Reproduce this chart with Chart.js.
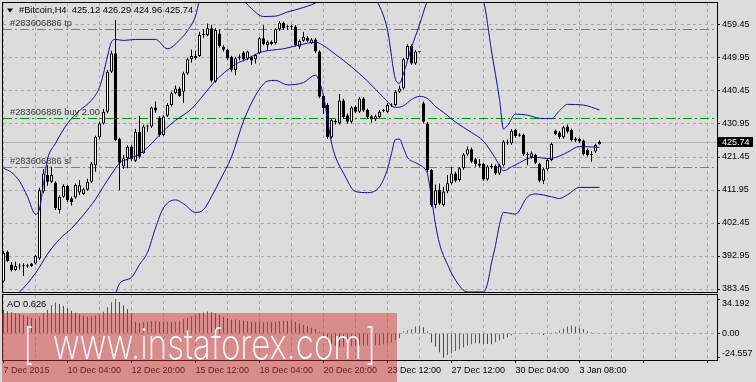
<!DOCTYPE html>
<html lang="en">
<head>
  <meta charset="UTF-8" />
  <title>#Bitcoin,H4</title>
  <script src="https://cdn.jsdelivr.net/npm/chart.js@4.4.1/dist/chart.umd.min.js"></script>
  <style>
    html, body { margin: 0; padding: 0; background: #dcdcdc; overflow: hidden; }
    #wrap { position: relative; width: 756px; height: 382px; }
    #wrap canvas { position: absolute; left: 0; top: 0; }
    #mark {
      position: absolute; left: 2px; top: 313px; width: 395px; height: 69px;
      background: rgba(215, 50, 50, 0.47); overflow: hidden;
    }
    #mark span {
      position: absolute; left: 21px; top: 8px; color: #fff;
      font: 200 42px Inter, Lato, sans-serif; line-height: 45px;
      white-space: pre; transform: scaleX(0.79); transform-origin: 0 0;
    }
  </style>
</head>
<body>
  <div id="wrap">
    <canvas id="main" width="756" height="382"></canvas>
    <canvas id="ao" width="756" height="382"></canvas>
    <div id="mark"><span>[  www.instaforex.com&#8202;]</span></div>
  </div>

  <script>
    // H4 candles (bar 0 = 7 Dec 2015 00:00)
    const candleOpen = [
      385.6, 394.2, 390.4, 388.9, 390.0, 390.3, 389.9, 390.8, 390.8, 392.2,
      411.5, 416.3, 414.3, 414.1, 406.2, 410.0, 413.1, 409.6, 409.8, 411.2,
      410.8, 412.0, 414.3, 419.1, 427.1, 431.1, 434.5, 446.0, 451.3, 426.6,
      418.7, 421.1, 424.4, 420.4, 428.7, 422.5, 430.2, 430.2, 435.7, 432.8,
      427.8, 433.3, 436.4, 439.8, 441.2, 440.2, 445.5, 449.6, 449.9, 450.5,
      456.6, 456.6, 458.5, 443.1, 457.0, 453.2, 452.3, 450.3, 446.5, 450.0,
      451.5, 449.8, 450.3, 449.6, 451.3, 455.6, 453.7, 454.6, 454.2, 458.2,
      460.1, 458.8, 458.9, 459.0, 453.2, 454.9, 455.8, 454.2, 455.3, 451.8,
      439.0, 436.5, 427.1, 431.4, 431.1, 437.7, 433.5, 431.6, 435.9, 434.5,
      438.3, 435.0, 433.2, 432.3, 433.0, 434.7, 434.5, 436.3, 436.4, 440.2,
      441.2, 449.6, 453.4, 448.4, 451.6, 436.9, 431.1, 417.7, 407.6, 412.0,
      407.6, 411.5, 413.9, 416.7, 414.8, 418.2, 422.2, 423.7, 420.8, 419.6,
      419.4, 415.0, 418.5, 418.9, 416.7, 419.1, 425.4, 425.4, 429.2, 427.6,
      427.8, 422.0, 421.4, 422.0, 419.4, 414.6, 417.9, 420.6, 429.0, 428.5,
      427.1, 430.2, 429.2, 426.8, 426.6, 426.2, 423.5, 422.3, 423.0, 425.12
    ];
    const candleHigh = [
      394.3, 394.5, 391.2, 391.4, 390.8, 390.9, 390.7, 391.0, 393.3, 412.6,
      418.0, 419.1, 418.7, 414.5, 410.4, 413.6, 413.4, 410.0, 413.8, 414.8,
      412.6, 415.2, 420.0, 427.6, 431.6, 435.3, 446.5, 452.0, 460.9, 427.0,
      422.0, 424.8, 425.0, 429.6, 433.3, 430.7, 430.7, 436.0, 437.4, 433.2,
      433.5, 437.0, 440.3, 442.0, 441.7, 446.0, 450.0, 452.4, 452.0, 457.5,
      458.2, 459.9, 459.5, 458.5, 458.2, 453.6, 452.6, 450.6, 450.3, 451.0,
      451.9, 452.0, 450.6, 451.2, 456.0, 459.4, 455.0, 455.0, 458.5, 460.5,
      460.4, 459.4, 459.5, 459.4, 455.3, 457.5, 456.3, 455.7, 455.7, 452.2,
      439.3, 437.0, 432.5, 432.5, 439.6, 438.2, 434.0, 436.1, 436.2, 438.7,
      438.7, 435.4, 433.6, 433.6, 434.9, 435.3, 437.0, 436.9, 440.7, 442.0,
      450.0, 453.9, 453.8, 452.2, 451.7, 437.4, 431.5, 418.0, 413.5, 413.8,
      412.9, 416.3, 418.6, 417.2, 418.6, 422.6, 424.5, 424.2, 421.2, 420.8,
      419.8, 419.1, 419.5, 419.3, 419.5, 426.3, 426.5, 429.5, 429.6, 428.3,
      428.2, 422.8, 423.0, 422.4, 419.8, 418.3, 421.0, 425.6, 429.4, 428.9,
      430.4, 430.8, 429.6, 427.2, 427.0, 426.5, 423.9, 423.2, 425.3, 426.29
    ];
    const candleLow = [
      385.3, 391.2, 388.5, 388.7, 389.0, 387.2, 389.6, 389.8, 390.5, 391.8,
      411.0, 413.2, 414.0, 406.2, 405.2, 409.7, 408.5, 407.5, 409.4, 410.5,
      410.5, 411.7, 414.0, 417.2, 426.5, 430.8, 434.0, 445.6, 426.0, 411.9,
      418.0, 418.2, 420.4, 420.0, 421.0, 422.3, 428.7, 429.8, 434.2, 427.3,
      427.5, 433.0, 436.0, 439.5, 438.7, 437.1, 445.1, 448.6, 449.5, 450.2,
      455.8, 456.2, 443.0, 442.8, 453.0, 451.8, 449.3, 446.0, 445.0, 449.3,
      449.0, 449.3, 447.9, 448.4, 451.0, 453.6, 452.2, 453.6, 453.8, 457.8,
      458.0, 458.0, 458.1, 453.2, 452.6, 454.6, 454.5, 453.9, 451.4, 438.4,
      433.8, 426.6, 426.8, 430.8, 430.8, 432.4, 431.0, 431.2, 434.1, 434.1,
      434.4, 432.6, 431.3, 431.8, 432.7, 434.3, 434.1, 435.9, 436.0, 439.9,
      440.8, 449.2, 448.0, 448.0, 451.5, 431.2, 417.0, 407.1, 406.7, 407.6,
      407.2, 411.0, 413.5, 414.2, 414.4, 417.8, 421.8, 419.7, 418.7, 418.4,
      414.6, 414.6, 418.1, 416.3, 416.3, 418.7, 425.0, 425.0, 427.0, 427.3,
      421.8, 419.1, 421.0, 419.4, 414.2, 413.7, 417.5, 420.2, 427.7, 426.7,
      426.7, 428.3, 425.9, 425.8, 425.5, 421.9, 421.6, 420.1, 422.6, 424.96
    ];
    const candleClose = [
      393.9, 391.5, 388.9, 390.1, 389.9, 390.0, 390.3, 390.1, 393.0, 411.9,
      416.7, 414.3, 416.3, 406.7, 410.0, 413.1, 409.0, 408.4, 413.4, 413.3,
      412.2, 414.3, 419.6, 427.3, 431.1, 434.5, 446.0, 451.3, 426.3, 419.8,
      421.1, 424.4, 420.8, 428.7, 421.5, 430.2, 430.4, 435.7, 434.8, 427.8,
      433.1, 436.4, 439.8, 441.2, 439.0, 445.5, 449.6, 450.5, 450.5, 456.6,
      456.8, 458.5, 443.4, 458.0, 453.3, 452.3, 449.8, 446.6, 449.9, 450.4,
      449.6, 451.8, 449.2, 450.8, 455.6, 454.0, 454.6, 454.0, 458.2, 460.1,
      458.5, 459.0, 458.8, 453.7, 454.9, 456.1, 454.9, 455.3, 451.8, 438.8,
      435.5, 427.1, 432.1, 431.8, 437.7, 433.0, 431.6, 435.7, 434.5, 438.3,
      434.8, 433.0, 432.3, 433.2, 434.5, 434.9, 436.4, 436.5, 440.2, 441.2,
      449.6, 453.4, 448.4, 451.8, 451.6, 431.6, 417.7, 407.6, 411.9, 408.1,
      411.5, 413.9, 416.7, 414.6, 418.2, 422.2, 423.7, 420.1, 419.4, 418.9,
      415.0, 418.7, 418.9, 416.7, 419.1, 425.9, 425.7, 429.0, 427.5, 427.9,
      422.2, 422.2, 422.5, 419.8, 414.6, 417.9, 420.6, 425.2, 428.1, 427.1,
      430.0, 428.7, 426.3, 426.2, 425.9, 422.3, 422.0, 422.0, 424.9, 425.74
    ];

    // Bollinger bands, read at the bars where the curves bend
    const upperBar = [0, 2, 4, 6, 8, 9, 10, 11, 13, 16, 19, 22, 24, 25, 26, 27, 28, 30, 33, 38,
      41, 44, 46, 48, 49, 52, 58, 60, 62, 65, 68, 71, 75, 79, 86, 93, 96, 98, 99, 100,
      102, 104, 106, 112, 120, 122, 124, 125, 126, 128, 131, 134, 137, 139, 141, 145, 149];
    const upperBand = [418.2, 417.0, 414.5, 410.0, 405.0, 406.5, 413.8, 420.8, 425.4, 431.1,
      434.8, 437.8, 441.5, 445.5, 450.5, 454.6, 455.3, 455.0, 455.3, 455.3,
      452.6, 455.1, 457.8, 462.0, 466.5, 472.0, 472.0, 466.8, 464.2, 461.9,
      462.0, 463.2, 464.5, 466.5, 475.0, 467.0, 458.0, 443.8, 442.7, 445.5,
      453.0, 459.5, 466.5, 478.0, 466.5, 452.0, 438.0, 429.5, 430.5, 433.8,
      433.5, 432.6, 432.5, 434.8, 436.6, 436.4, 435.0];
    const middleBar = [0, 4, 8, 11, 14, 17, 20, 23, 25, 27, 29, 31, 34, 37, 40, 43, 47, 50, 53, 56,
      58, 61, 64, 67, 70, 74, 78, 80, 83, 87, 91, 95, 98, 100, 102, 104, 106, 108, 110, 113,
      117, 120, 123, 125, 127, 129, 131, 133, 136, 138, 141, 144, 146, 149];
    const middleBand = [379.5, 382.6, 388.0, 393.5, 397.8, 400.9, 404.8, 409.3, 413.0, 416.5,
      419.7, 420.8, 422.3, 425.3, 429.0, 432.0, 435.3, 439.3, 443.4, 446.5,
      448.2, 449.7, 451.5, 452.2, 452.6, 453.7, 454.5, 453.5, 451.0, 447.4,
      443.3, 438.6, 435.7, 436.2, 438.0, 438.9, 438.3, 436.0, 434.3, 431.5,
      428.5, 426.0, 421.0, 417.5, 418.6, 419.8, 421.0, 421.4, 421.0, 421.3,
      422.8, 424.5, 424.4, 424.2];
    const lowerBar = [0, 14, 24, 28, 29, 32, 34, 36, 38, 40, 43, 45, 48, 50, 52, 54, 57, 60, 62, 64,
      66, 68, 71, 75, 78, 79, 80, 82, 83, 85, 88, 91, 94, 96, 97, 98, 99, 100, 101, 103,
      105, 106, 107, 108, 109, 111, 113, 116, 120, 121, 122, 123, 124, 125, 128, 131, 133, 137,
      139, 141, 144, 149];
    const lowerBand = [362.0, 368.0, 376.0, 382.2, 385.0, 386.8, 390.5, 394.0, 401.0, 406.8,
      409.1, 408.0, 405.5, 406.3, 410.0, 414.5, 421.5, 431.8, 437.0, 441.0,
      443.3, 443.5, 442.2, 442.9, 445.0, 443.0, 439.0, 425.5, 421.5, 416.8,
      411.5, 411.2, 412.9, 418.0, 422.5, 426.5, 426.6, 424.0, 421.3, 419.8,
      418.4, 416.5, 409.5, 402.0, 396.5, 390.5, 386.0, 382.6, 382.6, 385.0,
      391.0, 396.0, 402.0, 405.5, 405.0, 410.0, 410.8, 410.0, 409.5, 410.6,
      412.7, 412.7];

    // Awesome Oscillator, one value per bar
    const aoValues = [
      23.3, 22.0, 21.0, 20.0, 19.2, 18.2, 16.8, 15.6, 14.6, 16.8,
      20.0, 23.4, 28.2, 30.7, 29.3, 27.3, 25.0, 22.6, 20.6, 19.0,
      17.6, 16.5, 17.0, 17.6, 18.6, 21.5, 26.0, 31.0, 34.192, 31.2,
      28.0, 24.2, 20.0, 11.0, 10.5, 11.0, 11.5, 12.0, 12.3, 11.6,
      11.0, 11.5, 11.0, 11.6, 12.6, 14.0, 15.6, 17.0, 18.6, 20.0,
      20.8, 21.8, 21.0, 20.0, 18.6, 16.6, 15.0, 13.6, 14.0, 13.0,
      12.5, 12.0, 11.5, 11.0, 11.2, 10.9, 11.5, 11.0, 11.5, 12.0,
      12.5, 12.3, 13.0, 11.2, 9.8, 8.4, 7.0, 5.5, 3.8, 1.5,
      -3.5, -7.5, -10.5, -12.5, -13.8, -13.4, -13.2, -12.9, -12.8, -12.6,
      -12.4, -12.2, -12.1, -11.9, -11.7, -11.0, -10.0, -9.3, -6.7, -5.0,
      1.7, 2.7, 4.0, 6.7, 7.3, 6.0, 1.7, -9.3, -13.3, -19.0,
      -24.557, -21.7, -20.0, -17.7, -16.0, -14.0, -12.3, -11.0, -10.0, -10.3,
      -10.6, -10.8, -10.9, -9.0, -7.3, -5.7, -4.0, -2.3, -0.7, -0.2,
      0.5, 0.3, -0.3, -0.6, -1.0, -1.7, -0.7, 0.7, 1.3, 2.7,
      4.7, 6.7, 7.7, 6.7, 5.0, 4.0, 2.0, 1.0, 0.7, 0.626
    ];

    const priceTicks = [383.45, 392.95, 402.45, 411.95, 421.45, 430.95, 440.45, 449.95, 459.45];
    const aoTicks = [34.192, 0, -24.557];
    const timeLabels = ['7 Dec 2015', '10 Dec 04:00', '12 Dec 20:00', '15 Dec 12:00', '18 Dec 04:00',
      '20 Dec 20:00', '23 Dec 12:00', '27 Dec 12:00', '30 Dec 04:00', '3 Jan 08:00'];
    const orderTicket = '283606886';
    const levelNames = ['tp', 'buy 2.00', 'sl'];
    const levelValues = [458.2, 432.6, 418.5];

    const symbolName = '#Bitcoin,H4';
    const indicatorName = 'AO';

    const GRID = '#a9a9a9';
    const BAND = '#0c0c96';
    const LEVEL_COLORS = ['#f5501e', '#00960a', '#f5501e'];
    const AXIS_FONT = { family: 'Liberation Sans, Arial, sans-serif', size: 9 };
    const LABEL_FONT = '9.3px "Liberation Sans", Arial, sans-serif';

    const bars = candleOpen.map((_, i) => i);
    const last = bars.length - 1;
    const gridSteps = [];
    for (let v = 0; v <= 176; v += 8) gridSteps.push(v);

    // keep the plot areas exactly where the picture has them
    function fixWidth(s) { s.width = 39; s.paddingTop = 0; s.paddingBottom = 0; }
    function fixHeight(h) {
      return s => { s.height = h; s.paddingLeft = 0; s.paddingRight = 0; };
    }

    function frame(chart) {
      const { ctx, chartArea: a } = chart;
      ctx.save();
      ctx.strokeStyle = '#000';
      ctx.lineWidth = 1;
      ctx.setLineDash([]);
      ctx.strokeRect(a.left - 0.5, a.top - 0.5, a.right - a.left + 1, a.bottom - a.top + 1);
      ctx.restore();
    }

    const mainDecor = {
      id: 'mainDecor',
      beforeDatasetsDraw(chart) {
        const { ctx, chartArea: a, scales: { y } } = chart;
        ctx.save();
        ctx.beginPath();
        ctx.rect(a.left, a.top, a.right - a.left, a.bottom - a.top);
        ctx.clip();

        // last price line
        const yp = Math.round(y.getPixelForValue(candleClose[last])) + 0.5;
        ctx.strokeStyle = '#b4b4b4';
        ctx.lineWidth = 1;
        ctx.beginPath();
        ctx.moveTo(a.left, yp);
        ctx.lineTo(a.right, yp);
        ctx.stroke();

        // order levels
        ctx.font = LABEL_FONT;
        ctx.textBaseline = 'middle';
        levelValues.forEach((v, k) => {
          const py = Math.round(y.getPixelForValue(v)) + 0.5;
          ctx.strokeStyle = LEVEL_COLORS[k];
          ctx.setLineDash([9, 3, 2, 3]);
          ctx.beginPath();
          ctx.moveTo(a.left, py);
          ctx.lineTo(a.right, py);
          ctx.stroke();
          ctx.fillStyle = '#3a3a3a';
          ctx.fillText('#' + orderTicket + ' ' + levelNames[k], 10, py - 6);
        });
        ctx.restore();
      },
      afterDraw(chart) {
        const { ctx, scales: { y } } = chart;
        frame(chart);
        ctx.save();
        // symbol line
        ctx.fillStyle = '#000';
        ctx.beginPath();
        ctx.moveTo(7, 8.5);
        ctx.lineTo(13, 8.5);
        ctx.lineTo(10, 12.5);
        ctx.closePath();
        ctx.fill();
        ctx.font = LABEL_FONT;
        ctx.textBaseline = 'middle';
        const ohlc = [candleOpen[last], candleHigh[last], candleLow[last], candleClose[last]];
        ctx.fillText(symbolName + '  ' + ohlc.map(v => v.toFixed(2)).join(' '), 19, 10.5);

        // last price marker
        const yp = Math.round(y.getPixelForValue(candleClose[last]));
        ctx.fillStyle = '#000';
        ctx.fillRect(718, yp - 5, 35, 10);
        ctx.fillStyle = '#fff';
        ctx.font = '9px "Liberation Sans", Arial, sans-serif';
        ctx.fillText(candleClose[last].toFixed(2), 722, yp + 0.5);
        ctx.restore();
      }
    };

    new Chart(document.getElementById('main'), {
      type: 'bar',
      data: {
        datasets: [
          {
            type: 'line', label: 'upper', order: 0,
            data: upperBar.map((x, k) => ({ x, y: upperBand[k] })),
            borderColor: BAND, borderWidth: 1, pointRadius: 0, cubicInterpolationMode: 'monotone'
          },
          {
            type: 'line', label: 'middle', order: 0,
            data: middleBar.map((x, k) => ({ x, y: middleBand[k] })),
            borderColor: BAND, borderWidth: 1, pointRadius: 0, cubicInterpolationMode: 'monotone'
          },
          {
            type: 'line', label: 'lower', order: 0,
            data: lowerBar.map((x, k) => ({ x, y: lowerBand[k] })),
            borderColor: BAND, borderWidth: 1, pointRadius: 0, cubicInterpolationMode: 'monotone'
          },
          {
            label: 'body', order: 1,
            data: bars.map(i => ({ x: i, y: [candleOpen[i], candleClose[i]] })),
            backgroundColor: c => candleClose[c.dataIndex] >= candleOpen[c.dataIndex] ? '#fff' : '#000',
            borderColor: '#000', borderWidth: 1, borderSkipped: false,
            maxBarThickness: 3, barPercentage: 1, grouped: false, inflateAmount: 0, minBarLength: 1
          },
          {
            label: 'wick', order: 2,
            data: bars.map(i => ({ x: i, y: [candleLow[i], candleHigh[i]] })),
            backgroundColor: '#000', borderWidth: 0,
            maxBarThickness: 1, barPercentage: 1, grouped: false, inflateAmount: 0
          }
        ]
      },
      options: {
        responsive: false,
        animation: false,
        devicePixelRatio: 1,
        layout: { padding: { left: 3, top: 3, right: 0, bottom: 90 } },
        plugins: { legend: { display: false }, tooltip: { enabled: false } },
        scales: {
          x: {
            type: 'linear', min: -0.125, max: 178.375, offset: false,
            afterBuildTicks: s => { s.ticks = gridSteps.map(v => ({ value: v })); },
            afterFit: fixHeight(0),
            grid: { color: GRID, drawTicks: false, offset: false },
            border: { display: false, dash: [3, 3] },
            ticks: { display: false }
          },
          y: {
            position: 'right', min: 382.59, max: 465.78,
            afterBuildTicks: s => { s.ticks = priceTicks.map(v => ({ value: v })); },
            afterFit: fixWidth,
            grid: { color: GRID, tickLength: 3, tickColor: '#000' },
            border: { display: false, dash: [3, 3] },
            ticks: { color: '#000', font: AXIS_FONT, padding: 2, callback: v => v.toFixed(2) }
          }
        }
      },
      plugins: [mainDecor]
    });

    const aoDecor = {
      id: 'aoDecor',
      afterDraw(chart) {
        const { ctx, scales: { y } } = chart;
        frame(chart);
        ctx.save();
        ctx.fillStyle = '#000';
        ctx.font = LABEL_FONT;
        ctx.textBaseline = 'middle';
        ctx.fillText(indicatorName + ' ' + aoValues[last].toFixed(3), 7, 304);
        ctx.font = '9px "Liberation Sans", Arial, sans-serif';
        const bases = ['top', 'middle', 'bottom'];
        aoTicks.forEach((v, k) => {
          ctx.textBaseline = bases[k];
          ctx.fillText(v === 0 ? '0.00' : v.toFixed(3), 722, y.getPixelForValue(v));
        });
        ctx.restore();
      }
    };

    new Chart(document.getElementById('ao'), {
      type: 'bar',
      data: {
        datasets: [{
          label: indicatorName,
          data: bars.map(i => ({ x: i, y: aoValues[i] })),
          backgroundColor: c => (c.dataIndex > 0 && aoValues[c.dataIndex] >= aoValues[c.dataIndex - 1]) ? '#168c16' : '#f00000',
          borderWidth: 0, maxBarThickness: 1, barPercentage: 1, grouped: false, inflateAmount: 0
        }]
      },
      options: {
        responsive: false,
        animation: false,
        devicePixelRatio: 1,
        layout: { padding: { left: 3, top: 295, right: 0, bottom: 0 } },
        plugins: { legend: { display: false }, tooltip: { enabled: false } },
        scales: {
          x: {
            type: 'linear', min: -0.125, max: 178.375, offset: false,
            afterBuildTicks: s => { s.ticks = gridSteps.map(v => ({ value: v })); },
            afterFit: fixHeight(22),
            grid: {
              color: GRID, offset: false, tickLength: 3,
              tickColor: c => (c.tick && c.tick.value % 16 === 0) ? '#000' : 'rgba(0,0,0,0)'
            },
            border: { display: false, dash: [3, 3] },
            ticks: {
              align: 'start', maxRotation: 0, autoSkip: false, padding: 2,
              color: '#000', font: AXIS_FONT,
              callback: v => v % 16 === 0 ? (timeLabels[v / 16] || '') : ''
            }
          },
          y: {
            position: 'right', min: -26.7, max: 38.3,
            afterBuildTicks: s => { s.ticks = aoTicks.map(v => ({ value: v })); },
            afterFit: fixWidth,
            grid: {
              color: c => (c.tick && c.tick.value === 0) ? GRID : 'rgba(0,0,0,0)',
              tickLength: 3, tickColor: '#000'
            },
            border: { display: false, dash: [3, 3] },
            ticks: { display: false }
          }
        }
      },
      plugins: [aoDecor]
    });
  </script>
</body>
</html>
